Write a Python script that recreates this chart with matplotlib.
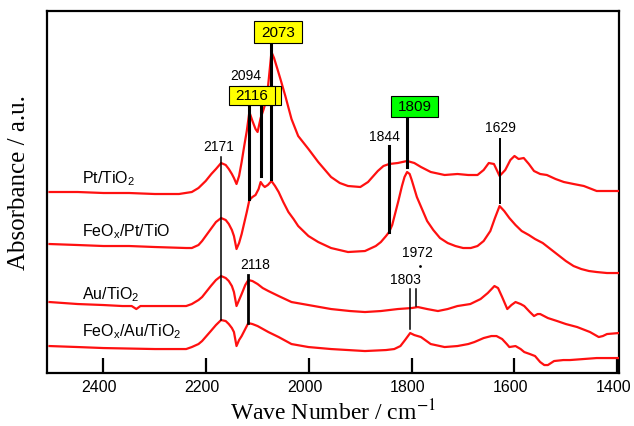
import numpy as np
import matplotlib
matplotlib.use("Agg")
import matplotlib.pyplot as plt
import matplotlib.transforms as mtransforms
from matplotlib.patches import Rectangle

plt.rcParams['font.family'] = ['Liberation Sans', 'DejaVu Sans']
plt.rcParams['mathtext.fontset'] = 'custom'
plt.rcParams['mathtext.rm'] = 'Liberation Sans'
plt.rcParams['mathtext.it'] = 'Liberation Sans'

# IR spectra, stacked with offsets (wavenumber / cm-1, absorbance a.u.)
pt_wn = [2505, 2450, 2400, 2350, 2300, 2253, 2228, 2215, 2201, 2190, 2181, 2171, 2162, 2156,
         2150, 2146, 2141, 2136, 2131, 2126, 2121, 2116, 2110, 2104, 2100, 2094, 2088, 2082,
         2078, 2073, 2068, 2062, 2055, 2046, 2034, 2021, 2001, 1982, 1957, 1940, 1924, 1900,
         1885, 1866, 1855, 1844, 1827, 1809, 1795, 1782, 1763, 1736, 1711, 1690, 1672, 1660,
         1650, 1640, 1629, 1618, 1608, 1600, 1592, 1582, 1572, 1562, 1550, 1537, 1520, 1504,
         1485, 1465, 1440, 1420, 1397]
pt_abs = [1.81, 1.81, 1.80, 1.80, 1.79, 1.79, 1.81, 1.85, 1.92, 1.99, 2.04, 2.10, 2.08, 2.04,
          1.99, 1.95, 1.89, 1.97, 2.11, 2.27, 2.42, 2.61, 2.52, 2.44, 2.41, 2.55, 2.64, 2.75,
          2.95, 3.21, 3.15, 3.05, 2.93, 2.77, 2.54, 2.37, 2.24, 2.11, 1.96, 1.90, 1.87, 1.86,
          1.91, 2.02, 2.07, 2.09, 2.10, 2.12, 2.10, 2.06, 2.01, 1.98, 1.99, 1.98, 1.98, 2.03,
          2.10, 2.09, 1.97, 2.03, 2.13, 2.17, 2.14, 2.15, 2.09, 2.02, 1.99, 1.98, 1.94, 1.91,
          1.89, 1.87, 1.82, 1.82, 1.82]

fept_wn = [2505, 2450, 2400, 2350, 2300, 2239, 2228, 2215, 2208, 2191, 2181, 2171, 2162, 2156,
           2150, 2146, 2141, 2136, 2131, 2126, 2121, 2116, 2110, 2104, 2098, 2094, 2090, 2086,
           2080, 2073, 2066, 2059, 2050, 2040, 2030, 2021, 2001, 1982, 1957, 1924, 1891, 1870,
           1860, 1850, 1844, 1838, 1832, 1826, 1819, 1814, 1809, 1804, 1800, 1790, 1780, 1770,
           1758, 1745, 1730, 1715, 1700, 1685, 1672, 1660, 1647, 1638, 1629, 1620, 1610, 1598,
           1586, 1572, 1560, 1545, 1530, 1515, 1500, 1485, 1470, 1455, 1440, 1420, 1397]
fept_abs = [1.29, 1.28, 1.27, 1.27, 1.26, 1.25, 1.25, 1.28, 1.32, 1.44, 1.51, 1.55, 1.53, 1.49,
            1.43, 1.37, 1.24, 1.30, 1.39, 1.50, 1.61, 1.73, 1.76, 1.78, 1.84, 1.91, 1.88, 1.86,
            1.88, 1.92, 1.87, 1.81, 1.71, 1.61, 1.54, 1.47, 1.37, 1.31, 1.25, 1.21, 1.22, 1.27,
            1.31, 1.37, 1.41, 1.48, 1.60, 1.72, 1.87, 1.96, 2.01, 1.99, 1.93, 1.76, 1.64, 1.52,
            1.43, 1.35, 1.30, 1.27, 1.25, 1.25, 1.27, 1.32, 1.42, 1.55, 1.67, 1.62, 1.55, 1.48,
            1.42, 1.38, 1.34, 1.30, 1.24, 1.18, 1.12, 1.07, 1.04, 1.02, 1.01, 1.00, 1.00]

au_wn = [2505, 2450, 2400, 2363, 2345, 2336, 2328, 2300, 2239, 2228, 2215, 2208, 2191, 2181,
         2171, 2162, 2156, 2150, 2146, 2141, 2136, 2131, 2124, 2118, 2110, 2100, 2090, 2079,
         2059, 2034, 2001, 1957, 1920, 1891, 1860, 1827, 1800, 1788, 1770, 1749, 1730, 1711,
         1686, 1666, 1652, 1639, 1632, 1624, 1614, 1606, 1598, 1588, 1581, 1570, 1562, 1555,
         1550, 1535, 1517, 1500, 1478, 1453, 1436, 1428, 1420, 1397]
au_abs = [0.71, 0.69, 0.68, 0.67, 0.67, 0.64, 0.67, 0.67, 0.67, 0.69, 0.73, 0.76, 0.87, 0.93,
          0.97, 0.95, 0.92, 0.87, 0.81, 0.67, 0.73, 0.79, 0.88, 0.93, 0.92, 0.89, 0.85, 0.82,
          0.77, 0.71, 0.68, 0.64, 0.62, 0.61, 0.62, 0.64, 0.65, 0.66, 0.64, 0.62, 0.64, 0.67,
          0.69, 0.74, 0.80, 0.87, 0.85, 0.76, 0.64, 0.68, 0.71, 0.69, 0.67, 0.61, 0.57, 0.59,
          0.59, 0.55, 0.52, 0.49, 0.46, 0.41, 0.36, 0.37, 0.39, 0.40]

feau_wn = [2505, 2450, 2400, 2300, 2239, 2228, 2215, 2208, 2191, 2181, 2171, 2162, 2156, 2150,
           2146, 2141, 2136, 2131, 2124, 2118, 2110, 2100, 2079, 2059, 2034, 2001, 1957, 1891,
           1850, 1834, 1822, 1813, 1803, 1795, 1782, 1763, 1736, 1711, 1690, 1678, 1660, 1645,
           1635, 1624, 1615, 1610, 1598, 1588, 1581, 1570, 1560, 1550, 1542, 1535, 1523, 1505,
           1492, 1440, 1397]
feau_abs = [0.27, 0.26, 0.25, 0.24, 0.24, 0.26, 0.29, 0.32, 0.42, 0.48, 0.53, 0.52, 0.49, 0.45,
            0.41, 0.27, 0.33, 0.37, 0.44, 0.50, 0.49, 0.47, 0.41, 0.36, 0.29, 0.26, 0.24, 0.22,
            0.23, 0.24, 0.27, 0.33, 0.40, 0.38, 0.36, 0.29, 0.26, 0.27, 0.29, 0.31, 0.35, 0.37,
            0.37, 0.34, 0.29, 0.26, 0.27, 0.24, 0.21, 0.19, 0.17, 0.11, 0.08, 0.08, 0.12, 0.13,
            0.13, 0.15, 0.15]

sample_names = [r'Pt/TiO$_2$', r'FeO$_x$/Pt/TiO', r'Au/TiO$_2$', r'FeO$_x$/Au/TiO$_2$']
sample_label_y = [1.95, 1.42, 0.79, 0.42]

# band assignments: position, top and bottom of the marker line
band_wn = [2171, 2116, 2094, 2073, 1844, 1809, 1629, 2118, 1803, 1792]
band_top = [2.16, 2.69, 2.67, 3.30, 2.27, 2.56, 2.34, 0.98, 0.84, 0.84]
band_bot = [0.53, 1.74, 1.97, 1.94, 1.41, 2.06, 1.70, 0.50, 0.44, 0.67]
band_lw = [1.1, 2.2, 2.2, 2.2, 2.2, 2.2, 1.4, 2.0, 1.1, 1.1]

fig = plt.figure(figsize=(6.34, 4.27), dpi=100)
ax = fig.add_axes([0.074, 0.124, 0.902, 0.848])

for wn, ab in [(pt_wn, pt_abs), (fept_wn, fept_abs), (au_wn, au_abs), (feau_wn, feau_abs)]:
    ax.plot(wn, ab, color='#ff1010', lw=1.6, zorder=3)

for w, t, b, lw in zip(band_wn, band_top, band_bot, band_lw):
    ax.plot([w, w], [b, t], color='black', lw=lw, zorder=4)

# boxed labels for the main Pt carbonyl bands
ax.add_patch(Rectangle((2137, 2.68), -82, 0.19, fc='yellow', ec='black', lw=0.8, zorder=5))
ax.add_patch(Rectangle((2156, 2.68), -89, 0.19, fc='yellow', ec='black', lw=0.8, zorder=6))
ax.text(2112, 2.775, '2116', ha='center', va='center', fontsize=11, zorder=7)
ax.add_patch(Rectangle((2106, 3.30), -93, 0.22, fc='yellow', ec='black', lw=0.8, zorder=6))
ax.text(2059, 3.41, '2073', ha='center', va='center', fontsize=11, zorder=7)
ax.add_patch(Rectangle((1841, 2.56), -93, 0.21, fc='#00ff00', ec='black', lw=0.8, zorder=6))
ax.text(1794, 2.665, '1809', ha='center', va='center', fontsize=11, zorder=7)

ax.text(2123, 2.98, '2094', ha='center', va='center', fontsize=10)
ax.text(2175, 2.27, '2171', ha='center', va='center', fontsize=10)
ax.text(1854, 2.37, '1844', ha='center', va='center', fontsize=10)
ax.text(1628, 2.46, '1629', ha='center', va='center', fontsize=10)
ax.text(2104, 1.09, '2118', ha='center', va='center', fontsize=10)
ax.text(1788, 1.21, '1972', ha='center', va='center', fontsize=10)
ax.plot([1784], [1.07], 'k.', ms=2)
ax.text(1813, 0.94, '1803', ha='center', va='center', fontsize=10)

for name, y in zip(sample_names, sample_label_y):
    ax.text(2441, y, name, ha='left', va='center', fontsize=11.5)

ax.set_xlim(2510, 1397)
ax.set_ylim(0, 3.62)
ax.set_xticks([2400, 2200, 2000, 1800, 1600, 1400])
ax.set_yticks([])
ax.tick_params(axis='x', direction='in', length=11, width=1.6, labelsize=11.5, pad=4)
# nudge the tick labels a little left so 1400 stays inside the figure
shift = mtransforms.ScaledTranslation(-4 / 100, 0, fig.dpi_scale_trans)
for lbl in ax.get_xticklabels():
    lbl.set_transform(lbl.get_transform() + shift)
for s in ax.spines.values():
    s.set_linewidth(1.6)

ax.set_xlabel('Wave Number / cm$^{-1}$', family='Liberation Serif', fontsize=17,
              math_fontfamily='stix', labelpad=4)
ax.set_ylabel('Absorbance / a.u.', family='Liberation Serif', fontsize=18)
ax.yaxis.set_label_coords(-0.03, 0.53)

fig.savefig('out.png', dpi=100)
